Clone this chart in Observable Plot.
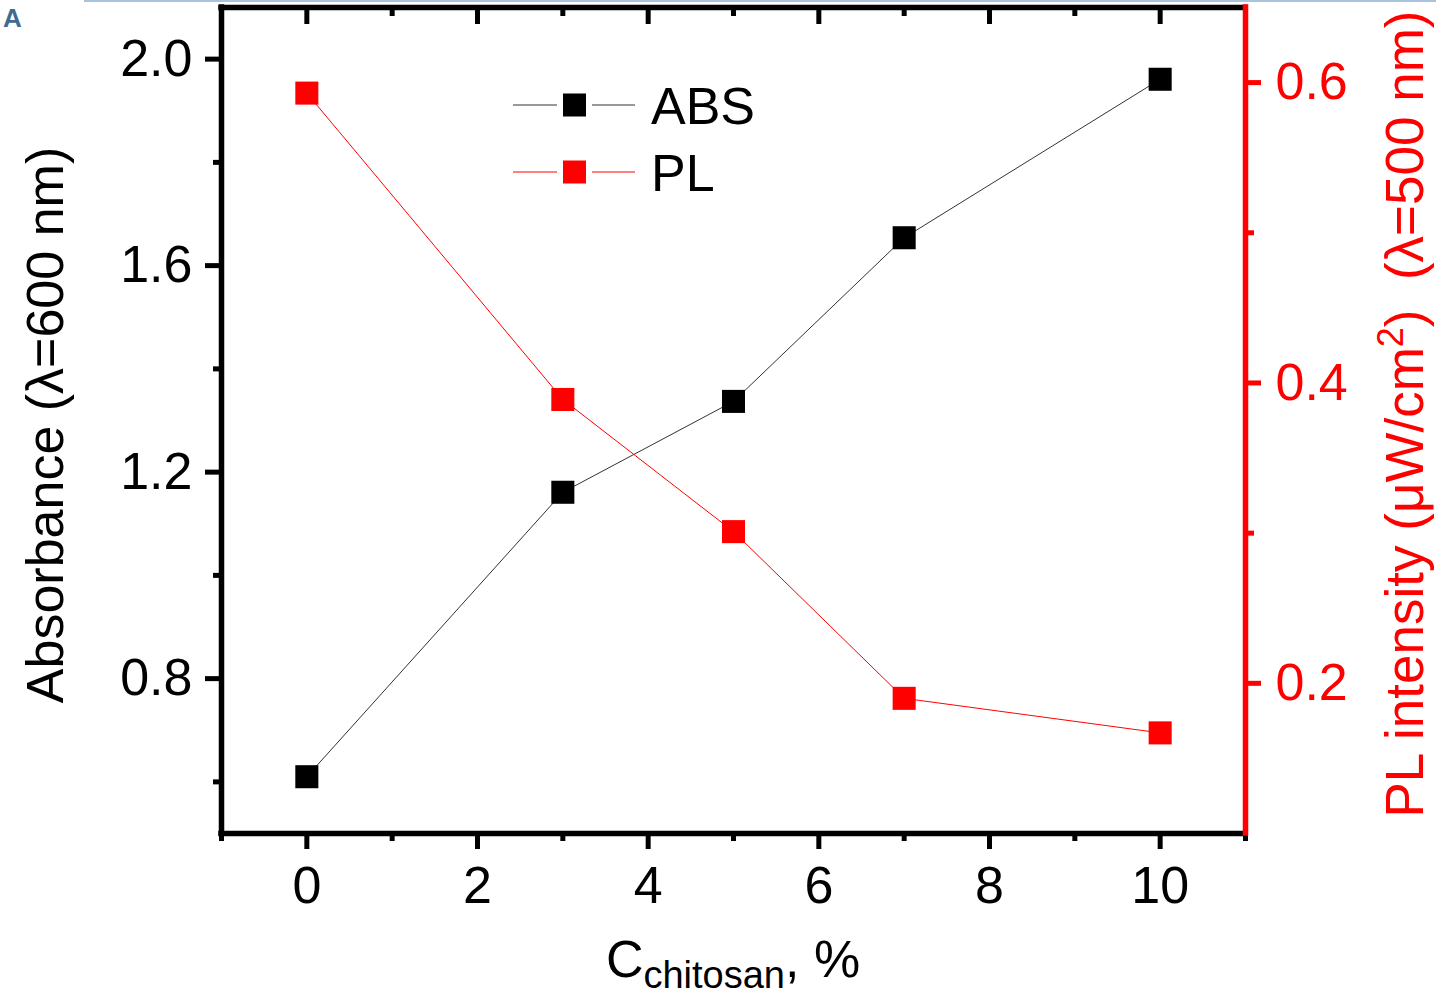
<!DOCTYPE html>
<html><head><meta charset="utf-8">
<script src="https://cdn.jsdelivr.net/npm/d3@7"></script>
<script src="https://cdn.jsdelivr.net/npm/@observablehq/plot@0.6"></script>
<style>
body{margin:0;background:#fff;font-family:"Liberation Sans",Arial,sans-serif;}
#wrap{position:relative;width:1436px;height:997px;overflow:hidden;}
#topline{position:absolute;left:84px;top:0;width:1352px;height:2px;background:#a9c3dc;}
#panel{position:absolute;left:3px;top:3px;line-height:1;font:bold 26px "Liberation Sans",Arial,sans-serif;color:#3f6a93;}
</style></head><body>
<div id="wrap"><div id="chart"></div><div id="topline"></div><div id="panel">A</div></div>
<script>
// ---- data ----
const chitosan = [0, 3, 5, 7, 10];
const absorbance = [0.61, 1.161, 1.337, 1.654, 1.961];
const plIntensity = [0.593, 0.389, 0.301, 0.190, 0.167];
const seriesNames = ["ABS", "PL"];
const xDomain = [-1, 11];
const absDomain = [0.5, 2.1];
const plDomain = [0.1, 0.65];
const xMajorTicks = [0, 2, 4, 6, 8, 10];
const xMinorTicks = [-1, 1, 3, 5, 7, 9, 11];
const absMajorTicks = [0.8, 1.2, 1.6, 2.0];
const absMinorTicks = [0.6, 1.0, 1.4, 1.8];
const plMajorTicks = [0.2, 0.4, 0.6];
const plMinorTicks = [0.3, 0.5];
const yLabelLeft = "Absorbance (λ=600 nm)";
const yLabelRightParts = ["PL intensity (μW/cm", "2", ")  (λ=500 nm)"];
const xLabelParts = ["C", "chitosan", ", %"];

// ---- chart ----
const FONT = "Liberation Sans, Arial, sans-serif";
const RED = "#ff0000";
const plToAbs = d3.scaleLinear(plDomain, absDomain);
const absData = chitosan.map((c, i) => ({c, v: absorbance[i]}));
const plData = chitosan.map((c, i) => ({c, v: plToAbs(plIntensity[i])}));
const seriesFill = ["#000", RED];
const seriesLine = ["#333", RED];

const plot = Plot.plot({
  width: 1436, height: 997,
  marginLeft: 221, marginRight: 191, marginTop: 7, marginBottom: 164,
  style: {fontFamily: FONT, fontSize: "52px", background: "white", overflow: "visible"},
  x: {domain: xDomain},
  y: {domain: absDomain},
  marks: [
    Plot.axisX(xMajorTicks, {anchor: "bottom", tickSize: 16, tickPadding: 17, strokeWidth: 5, fontSize: 52, label: null, tickFormat: d => String(d)}),
    Plot.axisX(xMinorTicks, {anchor: "bottom", tickSize: 8, strokeWidth: 5, fill: "none", label: null}),
    Plot.axisX(xMajorTicks, {anchor: "top", tickSize: -16, strokeWidth: 5, fill: "none", label: null}),
    Plot.axisX(xMinorTicks, {anchor: "top", tickSize: -8, strokeWidth: 5, fill: "none", label: null}),
    Plot.axisY(absMajorTicks, {anchor: "left", tickSize: 16, tickPadding: 13, strokeWidth: 5, fontSize: 52, label: null, tickFormat: d => d.toFixed(1)}),
    Plot.axisY(absMinorTicks, {anchor: "left", tickSize: 8, strokeWidth: 5, fill: "none", label: null}),
    Plot.axisY(plMajorTicks.map(plToAbs), {anchor: "right", tickSize: 15, tickPadding: 15, strokeWidth: 5, fontSize: 52, color: RED, label: null, tickFormat: d => plToAbs.invert(d).toFixed(1)}),
    Plot.axisY(plMinorTicks.map(plToAbs), {anchor: "right", tickSize: 8, strokeWidth: 5, stroke: RED, fill: "none", label: null}),
    Plot.line(absData, {x: "c", y: "v", stroke: seriesLine[0], strokeWidth: 1}),
    Plot.line(plData, {x: "c", y: "v", stroke: seriesLine[1], strokeWidth: 1}),
    Plot.dot(absData, {x: "c", y: "v", symbol: "square", r: 13, fill: seriesFill[0], stroke: null}),
    Plot.dot(plData, {x: "c", y: "v", symbol: "square", r: 13, fill: seriesFill[1], stroke: null}),
    Plot.ruleY(absDomain, {stroke: "#000", strokeWidth: 5.5, strokeLinecap: "square"}),
    Plot.ruleX([xDomain[0]], {stroke: "#000", strokeWidth: 5.5, strokeLinecap: "square"}),
    Plot.ruleX([xDomain[1]], {stroke: RED, strokeWidth: 5.5, strokeLinecap: "square"})
  ]
});
document.getElementById("chart").appendChild(plot);

// ---- legend & axis titles (text) ----
const svg = d3.select(plot);
const lg = svg.append("g").attr("font-family", FONT);
seriesNames.forEach((name, i) => {
  const cy = 105 + i * 67;
  [[513, 557], [592, 635]].forEach(([a, b]) =>
    lg.append("line").attr("x1", a).attr("x2", b).attr("y1", cy).attr("y2", cy)
      .attr("stroke", seriesLine[i]).attr("stroke-width", 1));
  lg.append("rect").attr("x", 563).attr("y", cy - 11.5).attr("width", 23).attr("height", 23)
    .attr("fill", seriesFill[i]);
  lg.append("text").attr("x", 651).attr("y", cy + 19).attr("font-size", 52)
    .attr("text-anchor", "start").attr("fill", "#000").text(name);
});

svg.append("text")
  .attr("transform", "translate(63,425) rotate(-90)")
  .attr("text-anchor", "middle").attr("font-size", 52).attr("font-family", FONT)
  .attr("fill", "#000").text(yLabelLeft);

const yr = svg.append("text")
  .attr("transform", "translate(1423,414) rotate(-90)")
  .attr("text-anchor", "middle").attr("font-size", 53).attr("font-family", FONT)
  .attr("fill", RED);
yr.append("tspan").text(yLabelRightParts[0]);
yr.append("tspan").attr("font-size", 36).attr("dy", -20).text(yLabelRightParts[1]);
yr.append("tspan").attr("dy", 20).text(yLabelRightParts[2]);

const xl = svg.append("text")
  .attr("x", 733).attr("y", 977).attr("text-anchor", "middle")
  .attr("font-size", 52).attr("font-family", FONT).attr("fill", "#000");
xl.append("tspan").text(xLabelParts[0]);
xl.append("tspan").attr("font-size", 38).attr("dy", 11).text(xLabelParts[1]);
xl.append("tspan").attr("dy", -11).text(xLabelParts[2]);
</script>
</body></html>
